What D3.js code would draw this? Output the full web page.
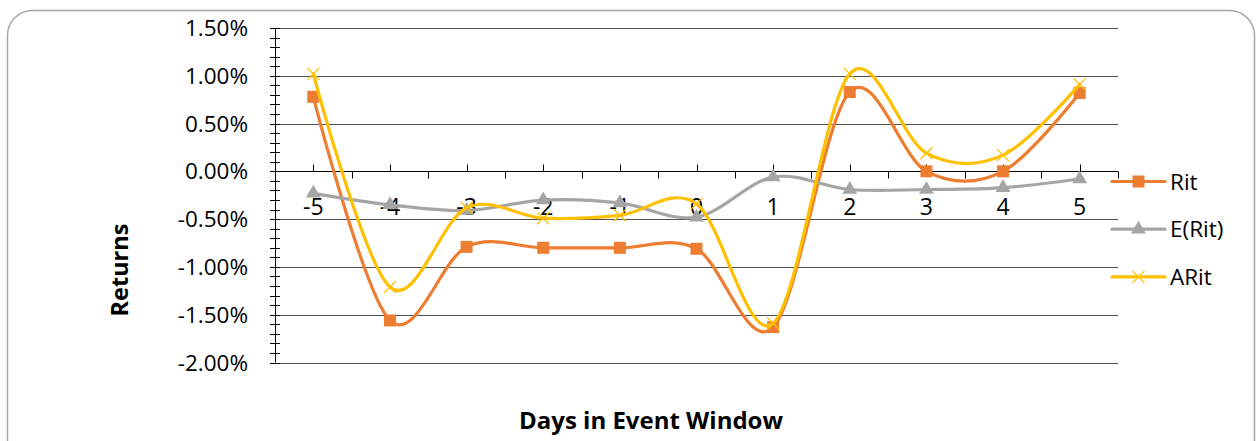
<!DOCTYPE html>
<html>
<head>
<meta charset="utf-8">
<script src="https://cdn.jsdelivr.net/npm/d3@7"></script>
<style>
  html, body { margin: 0; padding: 0; background: #fff; }
  svg text { font-family: "Open Sans", sans-serif; fill: #000; }
</style>
</head>
<body>
<div id="chart"></div>
<script>
// Data (percent values)
const days = ['-5', '-4', '-3', '-2', '-1', '0', '1', '2', '3', '4', '5'];
const rit = [0.78, -1.56, -0.79, -0.80, -0.80, -0.81, -1.63, 0.83, 0.00, 0.00, 0.82];
const eRit = [-0.23, -0.35, -0.41, -0.30, -0.33, -0.48, -0.06, -0.19, -0.19, -0.17, -0.08];
const aRit = [1.02, -1.21, -0.38, -0.49, -0.46, -0.34, -1.59, 1.02, 0.19, 0.17, 0.91];
const yTicks = [1.5, 1.0, 0.5, 0.0, -0.5, -1.0, -1.5, -2.0];
const seriesNames = ['Rit', 'E(Rit)', 'ARit'];
const seriesColors = ['#ED7D31', '#A5A5A5', '#FFC000'];

const W = 1257, H = 441;
const plot = { left: 275, right: 1118, top: 28, bottom: 362.5 };

const svg = d3.select('#chart').append('svg')
  .attr('width', W).attr('height', H);

// chart frame
svg.append('rect')
  .attr('x', 7.5).attr('y', 10.5)
  .attr('width', 1247).attr('height', 460)
  .attr('rx', 25).attr('ry', 25)
  .attr('fill', '#fff')
  .attr('stroke', '#a6a6a6').attr('stroke-width', 1.5);

const x = d3.scaleBand().domain(days).range([plot.left, plot.right]);
const y = d3.scaleLinear().domain([-2.0, 1.5]).range([plot.bottom, plot.top]);
const cx = d => x(d) + x.bandwidth() / 2;

// Gridlines
svg.append('g')
  .selectAll('line')
  .data(yTicks.filter(v => v !== 0))
  .enter().append('line')
  .attr('x1', plot.left).attr('x2', plot.right)
  .attr('y1', d => Math.round(y(d)) + 0.5).attr('y2', d => Math.round(y(d)) + 0.5)
  .attr('stroke', '#505050').attr('stroke-width', 1);

// Y axis minor ticks (every 0.1%)
const minor = d3.range(-20, 16).map(v => v / 10);
svg.append('g')
  .selectAll('line')
  .data(minor)
  .enter().append('line')
  .attr('x1', plot.left - 5).attr('x2', plot.left + 5)
  .attr('y1', d => Math.round(y(d)) + 0.5).attr('y2', d => Math.round(y(d)) + 0.5)
  .attr('stroke', '#000').attr('stroke-width', 1);

// Y axis line
svg.append('line')
  .attr('x1', plot.left + 0.5).attr('x2', plot.left + 0.5)
  .attr('y1', y(1.5)).attr('y2', y(-2.0))
  .attr('stroke', '#000');

// Y labels
svg.append('g')
  .selectAll('text')
  .data(yTicks)
  .enter().append('text')
  .attr('x', 248)
  .attr('y', d => y(d))
  .attr('dy', '0.36em')
  .attr('text-anchor', 'end')
  .style('font-size', '22.5px')
  .text(d => d.toFixed(2) + '%');

// X axis (at zero)
const y0 = Math.round(y(0)) + 0.5;
svg.append('line')
  .attr('x1', plot.left).attr('x2', plot.right)
  .attr('y1', y0).attr('y2', y0)
  .attr('stroke', '#000');

// ticks at category centres (up) and boundaries (down)
svg.append('g')
  .selectAll('line')
  .data(days)
  .enter().append('line')
  .attr('x1', d => Math.round(cx(d)) + 0.5).attr('x2', d => Math.round(cx(d)) + 0.5)
  .attr('y1', y0 - 7).attr('y2', y0)
  .attr('stroke', '#000');

svg.append('g')
  .selectAll('line')
  .data(days)
  .enter().append('line')
  .attr('x1', d => Math.round(x(d) + x.bandwidth()) + 0.5)
  .attr('x2', d => Math.round(x(d) + x.bandwidth()) + 0.5)
  .attr('y1', y0).attr('y2', y0 + 7)
  .attr('stroke', '#000');

// X labels
svg.append('g')
  .selectAll('text')
  .data(days)
  .enter().append('text')
  .attr('x', d => cx(d))
  .attr('y', y0 + 43)
  .attr('text-anchor', 'middle')
  .style('font-size', '23px')
  .text(d => d);

// Axis titles
svg.append('text')
  .attr('x', 651).attr('y', 429)
  .attr('text-anchor', 'middle')
  .style('font-size', '24px').style('font-weight', '700')
  .text('Days in Event Window');

svg.append('text')
  .attr('transform', 'translate(128,270) rotate(-90)')
  .attr('text-anchor', 'middle')
  .style('font-size', '23.5px').style('font-weight', '700')
  .text('Returns');

// Series lines
const line = d3.line()
  .x((d, i) => cx(days[i]))
  .y(d => y(d))
  .curve(d3.curveCatmullRom.alpha(0));

const allSeries = [rit, eRit, aRit];

function drawMarker(g, type, color) {
  if (type === 0) {
    g.append('rect').attr('x', -6).attr('y', -6).attr('width', 12).attr('height', 12)
      .attr('fill', color);
  } else if (type === 1) {
    g.append('path').attr('d', d3.symbol(d3.symbolTriangle, 95)())
      .attr('fill', color);
  } else {
    g.append('path').attr('d', 'M-6,-6L6,6M-6,6L6,-6')
      .attr('stroke', color).attr('stroke-width', 1.3).attr('fill', 'none');
  }
}

allSeries.forEach((vals, s) => {
  const g = svg.append('g');
  g.append('path')
    .datum(vals)
    .attr('d', line)
    .attr('fill', 'none')
    .attr('stroke', seriesColors[s])
    .attr('stroke-width', 3.2)
    .attr('stroke-linecap', 'round');
  g.selectAll('.pt')
    .data(vals)
    .enter().append('g')
    .attr('transform', (d, i) => `translate(${cx(days[i])},${y(d)})`)
    .each(function () { drawMarker(d3.select(this), s, seriesColors[s]); });
});

// Legend
const legend = svg.append('g');
seriesNames.forEach((name, i) => {
  const ly = 181.5 + i * 47.7;
  legend.append('line')
    .attr('x1', 1112).attr('x2', 1165)
    .attr('y1', ly).attr('y2', ly)
    .attr('stroke', seriesColors[i]).attr('stroke-width', 3.2)
    .attr('stroke-linecap', 'round');
  const m = legend.append('g').attr('transform', `translate(1138.5,${ly})`);
  drawMarker(m, i, seriesColors[i]);
  legend.append('text')
    .attr('x', 1170).attr('y', ly)
    .attr('dy', '0.36em')
    .style('font-size', '22.5px')
    .text(name);
});
</script>
</body>
</html>
